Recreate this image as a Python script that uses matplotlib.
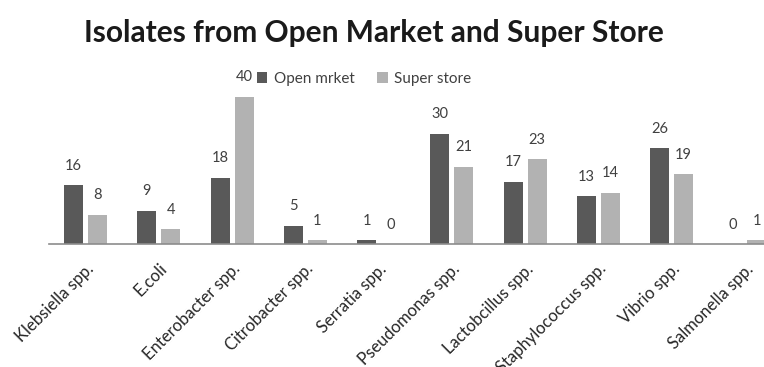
import numpy as np
import matplotlib
matplotlib.use("Agg")
import matplotlib.pyplot as plt

plt.rcParams['font.family'] = ['Lato', 'DejaVu Sans']

categories = ['Klebsiella spp.', 'E.coli', 'Enterobacter spp.', 'Citrobacter spp.',
              'Serratia spp.', 'Pseudomonas spp.', 'Lactobcillus spp.',
              'Staphylococcus spp.', 'Vibrio spp.', 'Salmonella spp.']
open_market = [16, 9, 18, 5, 1, 30, 17, 13, 26, 0]
super_store = [8, 4, 40, 1, 0, 21, 23, 14, 19, 1]

DARK = '#595959'
LIGHT = '#b2b2b2'

fig = plt.figure(figsize=(7.64, 3.67), dpi=100)
ax = fig.add_axes([0.064, 0.335, 0.959, 0.451])

x = np.arange(len(categories))
w = 0.26
off = 0.164
b1 = ax.bar(x - off, open_market, w, color=DARK, label='Open mrket')
b2 = ax.bar(x + off, super_store, w, color=LIGHT, label='Super store')

for bars, vals in ((b1, open_market), (b2, super_store)):
    for b, v in zip(bars, vals):
        ax.annotate(str(v), (b.get_x() + b.get_width() / 2, v),
                    xytext=(0, 9), textcoords='offset points',
                    ha='center', va='bottom', fontsize=10.5, color='#404040')

ax.set_xlim(-0.5, len(categories) - 0.5)
ax.set_ylim(0, 45)
ax.set_yticks([])
for s in ('top', 'right', 'left'):
    ax.spines[s].set_visible(False)
ax.spines['bottom'].set_color('#8c8c8c')
ax.spines['bottom'].set_linewidth(1.2)

ax.set_xticks(x)
ax.set_xticklabels(categories, rotation=45, ha='right', rotation_mode='anchor',
                   fontsize=12, color='#262626')
ax.tick_params(axis='x', length=0, pad=12)

fig.text(0.49, 0.91, 'Isolates from Open Market and Super Store',
         ha='center', va='center', fontsize=21.5, fontweight='bold', color='#1a1a1a')

ax.legend(loc='center', bbox_to_anchor=(0.43, 1.0),
          ncol=2, frameon=False, fontsize=11, handlelength=0.7, handleheight=0.7,
          columnspacing=1.5, handletextpad=0.4, labelcolor='#404040')

fig.savefig('out.png', dpi=100)
